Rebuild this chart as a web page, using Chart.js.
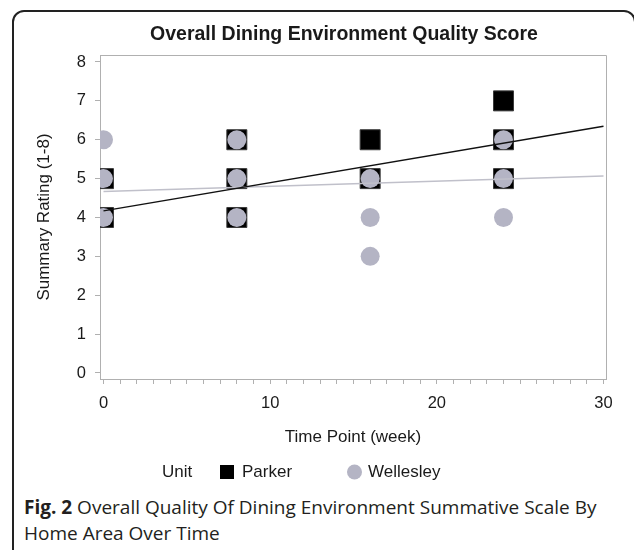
<!DOCTYPE html>
<html>
<head>
<meta charset="utf-8">
<script src="https://cdn.jsdelivr.net/npm/chart.js@4.4.0/dist/chart.umd.min.js"></script>
<style>
  html, body { margin: 0; padding: 0; background: #fff; overflow: hidden; }
  body { width: 634px; height: 550px; position: relative; }
  .frame {
    position: absolute; left: 12px; top: 10px; width: 624px; height: 560px;
    border: 2px solid #222; border-radius: 12px; box-sizing: border-box;
  }
  .chartbox { position: absolute; left: 0; top: 0; width: 634px; height: 490px; }
  .caption {
    position: absolute; left: 24px; top: 494px; width: 606px; white-space: nowrap;
    font-family: "Open Sans", sans-serif; font-size: 19px; line-height: 26px; color: #231f20;
  }
  .caption b { font-weight: 700; }
</style>
</head>
<body>
<div class="frame"></div>
<div class="chartbox"><canvas id="dining" width="634" height="490"></canvas></div>
<div class="caption"><b>Fig. 2</b> Overall Quality Of Dining Environment Summative Scale By<br>Home Area Over Time</div>

<script>
const parkerWeeks    = [0, 0, 8, 8, 8, 16, 16, 24, 24, 24];
const parkerRatings  = [4, 5, 4, 5, 6, 5, 6, 5, 6, 7];
const wellesleyWeeks   = [0, 0, 0, 8, 8, 8, 16, 16, 16, 24, 24, 24];
const wellesleyRatings = [4, 5, 6, 4, 5, 6, 3, 4, 5, 4, 5, 6];

// fitted lines, value at week 0 and week 30
const fitWeeks        = [0, 30];
const parkerFit       = [4.17, 6.35];
const wellesleyFit    = [4.67, 5.07];

const xTickLabels = [0, 10, 20, 30];
const yTickLabels = [0, 1, 2, 3, 4, 5, 6, 7, 8];

const PARKER = '#000000';
const WELLESLEY = '#b4b4c4';
const AXIS = '#b0b0b0';
const TEXT = '#1a1a1a';
const FONT = '"Liberation Sans", Arial, sans-serif';

function points(xs, ys) {
  return xs.map((x, i) => ({ x: x, y: ys[i] }));
}

// top + right edges of the plot box
const frameBox = {
  id: 'frameBox',
  afterDatasetsDraw(chart) {
    const a = chart.chartArea, ctx = chart.ctx;
    ctx.save();
    ctx.strokeStyle = AXIS;
    ctx.lineWidth = 1;
    ctx.beginPath();
    ctx.moveTo(Math.round(a.left) + 0.5, Math.round(a.top) + 0.5);
    ctx.lineTo(Math.round(a.right) + 0.5, Math.round(a.top) + 0.5);
    ctx.lineTo(Math.round(a.right) + 0.5, Math.round(a.bottom) + 0.5);
    ctx.stroke();
    ctx.restore();
  }
};

// title centred like the original figure
const figTitle = {
  id: 'figTitle',
  afterDraw(chart) {
    const ctx = chart.ctx;
    ctx.save();
    ctx.font = 'bold 19.5px ' + FONT;
    ctx.fillStyle = TEXT;
    ctx.textAlign = 'center';
    ctx.textBaseline = 'middle';
    ctx.fillText('Overall Dining Environment Quality Score', 344, 35);
    ctx.restore();
  }
};

// "Unit  ■ Parker   ● Wellesley"
const unitLegend = {
  id: 'unitLegend',
  afterDraw(chart) {
    const ctx = chart.ctx;
    const ds = chart.data.datasets;
    const y = 472;
    ctx.save();
    ctx.font = '17px ' + FONT;
    ctx.fillStyle = TEXT;
    ctx.textBaseline = 'middle';
    ctx.fillText('Unit', 162, y);
    ctx.fillStyle = ds[0].backgroundColor;
    ctx.fillRect(220, y - 7, 14, 14);
    ctx.fillStyle = TEXT;
    ctx.fillText(ds[0].label, 242, y);
    ctx.fillStyle = ds[1].backgroundColor;
    ctx.beginPath();
    ctx.arc(354.5, y, 7.5, 0, Math.PI * 2);
    ctx.fill();
    ctx.fillStyle = TEXT;
    ctx.fillText(ds[1].label, 368, y);
    ctx.restore();
  }
};

new Chart(document.getElementById('dining'), {
  type: 'scatter',
  data: {
    datasets: [
      {
        label: 'Parker',
        data: points(parkerWeeks, parkerRatings),
        pointStyle: 'rect',
        pointRadius: 14.14,
        backgroundColor: PARKER,
        borderColor: '#3a3a3a',
        borderWidth: 1,
        order: 3
      },
      {
        label: 'Wellesley',
        data: points(wellesleyWeeks, wellesleyRatings),
        pointStyle: 'circle',
        pointRadius: 9.5,
        backgroundColor: WELLESLEY,
        borderColor: WELLESLEY,
        borderWidth: 0,
        order: 2
      },
      {
        type: 'line',
        label: 'Parker fit',
        data: points(fitWeeks, parkerFit),
        borderColor: '#111111',
        borderWidth: 1.5,
        pointRadius: 0,
        fill: false,
        order: 1
      },
      {
        type: 'line',
        label: 'Wellesley fit',
        data: points(fitWeeks, wellesleyFit),
        borderColor: '#c0c0ca',
        borderWidth: 1.5,
        pointRadius: 0,
        fill: false,
        order: 1
      }
    ]
  },
  options: {
    responsive: false,
    animation: false,
    events: [],
    layout: { padding: { top: 55, right: 28, bottom: 36, left: 0 } },
    plugins: {
      legend: { display: false },
      title: { display: false },
      tooltip: { enabled: false }
    },
    scales: {
      x: {
        type: 'linear',
        min: -0.21,
        max: 30.15,
        afterBuildTicks: (s) => {
          const t = [];
          for (let v = xTickLabels[0]; v <= xTickLabels[xTickLabels.length - 1]; v++) t.push({ value: v });
          s.ticks = t;
        },
        afterFit: (s) => { s.height = 75; },
        ticks: {
          autoSkip: false,
          maxRotation: 0,
          padding: 9.4,
          color: TEXT,
          font: { family: FONT, size: 16.5 },
          callback: (v) => xTickLabels.includes(v) ? String(v) : ''
        },
        grid: { drawOnChartArea: false, drawTicks: true, tickLength: 5, tickColor: AXIS },
        border: { display: true, color: AXIS, width: 1 },
        title: {
          display: true,
          text: 'Time Point (week)',
          color: TEXT,
          font: { family: FONT, size: 17 },
          padding: { top: 0, bottom: 6.8 }
        }
      },
      y: {
        type: 'linear',
        min: -0.155,
        max: 8.18,
        afterBuildTicks: (s) => { s.ticks = yTickLabels.map(v => ({ value: v })); },
        afterFit: (s) => { s.width = 100; },
        ticks: {
          padding: 9,
          color: TEXT,
          font: { family: FONT, size: 16.5 }
        },
        grid: { drawOnChartArea: false, drawTicks: true, tickLength: 5, tickColor: AXIS },
        border: { display: true, color: AXIS, width: 1 },
        title: {
          display: true,
          text: 'Summary Rating (1-8)',
          color: TEXT,
          font: { family: FONT, size: 17 },
          padding: { top: 33.8, bottom: 0 }
        }
      }
    }
  },
  plugins: [frameBox, figTitle, unitLegend]
});
</script>
</body>
</html>
